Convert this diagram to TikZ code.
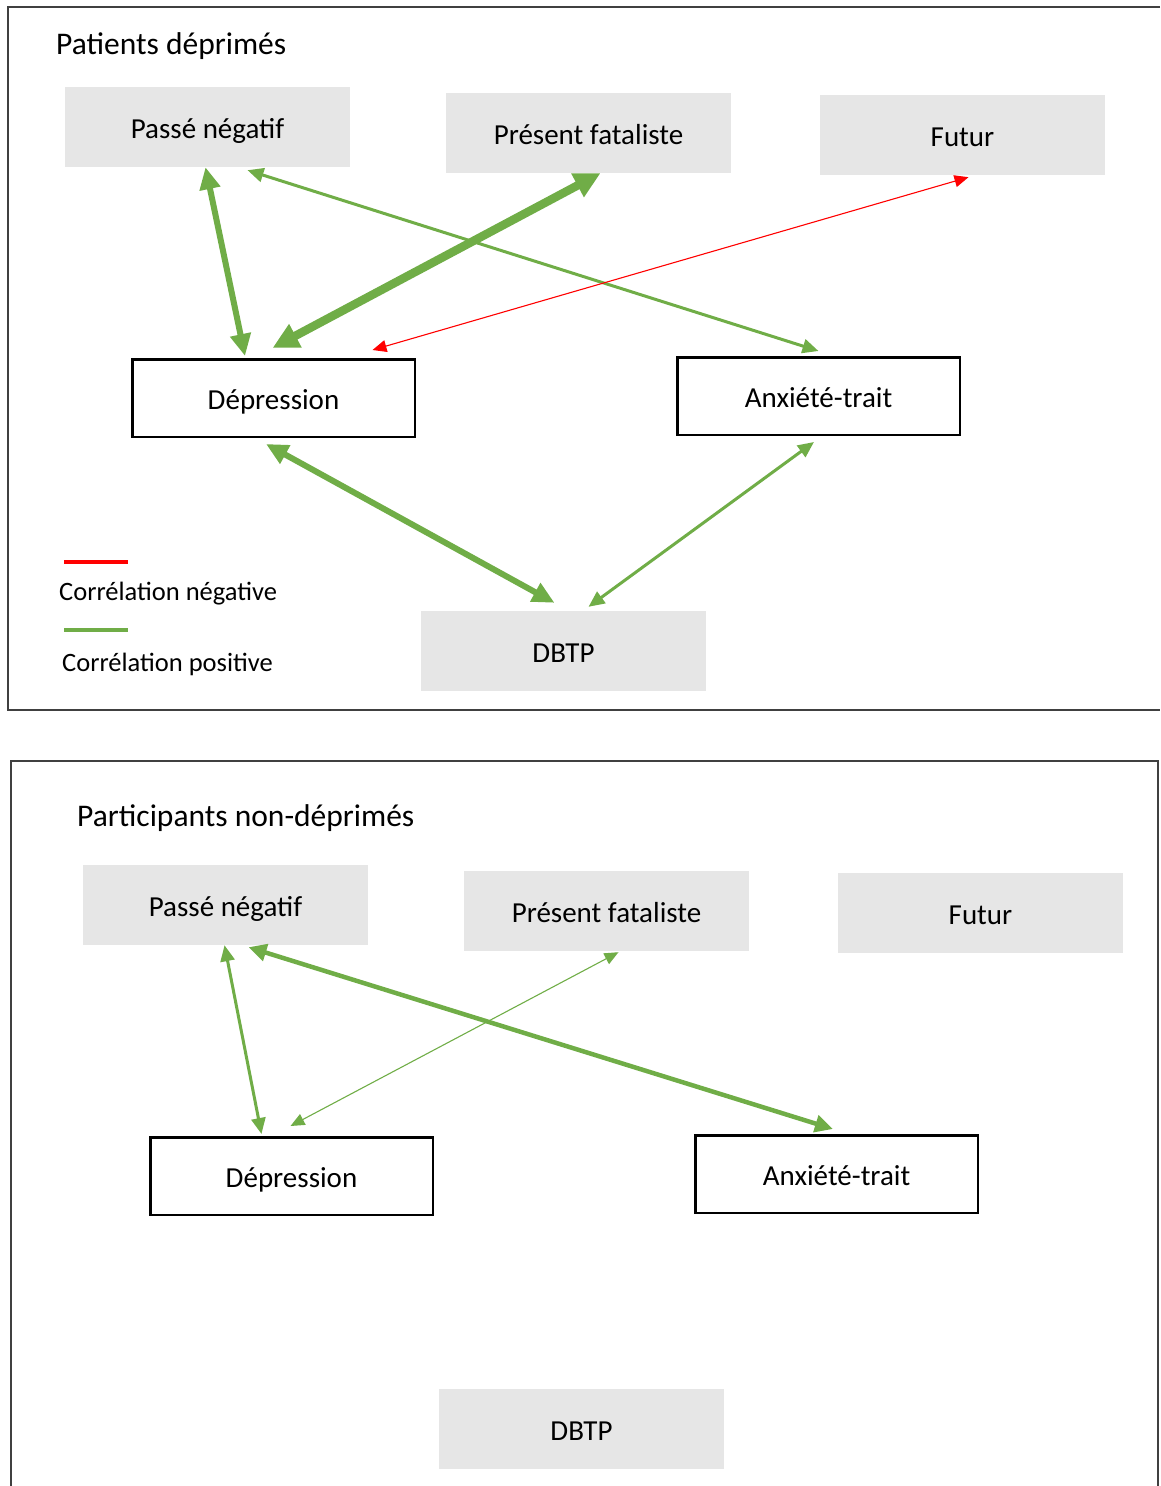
\documentclass[tikz,border=0pt]{standalone}
\usepackage{fontspec}
\setmainfont{Carlito}
\usetikzlibrary{arrows.meta, positioning}

\definecolor{vert}{HTML}{70AD47}
\definecolor{rouge}{HTML}{FF0000}
\definecolor{grisfond}{HTML}{E6E6E6}

\begin{document}
\begin{tikzpicture}[x=1pt, y=-1pt, node distance=0pt,
  titre/.style={anchor=west, inner sep=0pt, font=\fontsize{31.5}{37}\selectfont},
  legende/.style={anchor=west, inner sep=0pt, font=\fontsize{26.5}{31}\selectfont},
  facteur/.style={rectangle, minimum width=285pt, minimum height=80pt, text height=28pt, text depth=6pt, text centered, fill=grisfond, font=\fontsize{29}{35}\selectfont},
  mesure/.style={rectangle, minimum width=282.5pt, minimum height=77.5pt, text height=28pt, text depth=6pt, text centered, draw=black, line width=2.5pt, font=\fontsize{29}{35}\selectfont},
  cadre/.style={draw=black!75, line width=1.3pt},
  fin/.style={vert, line width=1.1pt, {Triangle[length=14pt,width=12pt]}-{Triangle[length=14pt,width=12pt]}},
  moyen/.style={vert, line width=3pt, {Triangle[length=16pt,width=14pt]}-{Triangle[length=16pt,width=14pt]}},
  assez epais/.style={vert, line width=4.5pt, {Triangle[length=18pt,width=17pt]}-{Triangle[length=18pt,width=17pt]}},
  epais/.style={vert, line width=6pt, {Triangle[length=22pt,width=20pt]}-{Triangle[length=22pt,width=20pt]}},
  tres epais/.style={vert, line width=8.5pt, {Triangle[length=26pt,width=25pt]}-{Triangle[length=26pt,width=25pt]}},
  negatif/.style={rouge, line width=1.1pt, {Triangle[length=14pt,width=12pt]}-{Triangle[length=14pt,width=12pt]}}]

  \useasboundingbox (0,0) rectangle (1160,1486);

  % Cadres
  \draw [cadre] (1160,7) -- (8,7) -- (8,710) -- (1160,710);
  \draw [cadre] (11,1486) -- (11,761) -- (1158,761) -- (1158,1486);

  % Nodes - patients deprimes
  \node (titre1) [titre] at (56,46) {Patients déprimés};
  \node (pas1) [facteur] at (207.5,127) {Passé négatif};
  \node (pre1) [facteur, right of=pas1, xshift=381pt, yshift=-6pt] {Présent fataliste};
  \node (fut1) [facteur, right of=pre1, xshift=374pt, yshift=-2pt] {Futur};
  \node (dep1) [mesure, below of=pas1, xshift=66pt, yshift=-271pt] {Dépression};
  \node (anx1) [mesure, right of=dep1, xshift=545pt, yshift=2pt] {Anxiété-trait};
  \node (dbtp1) [facteur, below of=dep1, xshift=290pt, yshift=-253pt] {DBTP};

  % Legende
  \draw [rouge, line width=4pt] (64,562) -- (128,562);
  \node (legneg) [legende] at (59,594) {Corrélation négative};
  \draw [vert, line width=4pt] (64,630) -- (128,630);
  \node (legpos) [legende] at (62,664) {Corrélation positive};

  % Nodes - participants non deprimes
  \node (titre2) [titre] at (77,818) {Participants non-déprimés};
  \node (pas2) [facteur, below of=pas1, xshift=18pt, yshift=-778pt] {Passé négatif};
  \node (pre2) [facteur, right of=pas2, xshift=381pt, yshift=-6pt] {Présent fataliste};
  \node (fut2) [facteur, right of=pre2, xshift=374pt, yshift=-2pt] {Futur};
  \node (dep2) [mesure, below of=pas2, xshift=66pt, yshift=-271pt] {Dépression};
  \node (anx2) [mesure, right of=dep2, xshift=545pt, yshift=2pt] {Anxiété-trait};
  \node (dbtp2) [facteur, below of=dep2, xshift=290pt, yshift=-253pt] {DBTP};

  % Arrows - patients deprimes
  \draw [epais] ([xshift=-2pt]pas1.south) -- ([xshift=-28.5pt,yshift=2pt]dep1.north);
  \draw [tres epais] ([xshift=12pt]pre1.south) -- ([xshift=-1pt,yshift=10pt]dep1.north);
  \draw [moyen] ([xshift=40pt,yshift=-3pt]pas1.south) -- ([yshift=5pt]anx1.north);
  \draw [negatif] ([xshift=6pt,yshift=-2pt]fut1.south) -- ([xshift=99pt,yshift=8pt]dep1.north);
  \draw [epais] ([xshift=-7.5pt,yshift=-6pt]dep1.south) -- ([xshift=-9pt,yshift=8pt]dbtp1.north);
  \draw [moyen] ([xshift=-4.5pt,yshift=-6pt]anx1.south) -- ([xshift=25pt,yshift=4pt]dbtp1.north);

  % Arrows - participants non deprimes
  \draw [moyen] ([xshift=-1pt]pas2.south) -- ([xshift=-30pt,yshift=2pt]dep2.north);
  \draw [assez epais] ([xshift=23pt,yshift=-2pt]pas2.south) -- ([xshift=-3.5pt,yshift=5pt]anx2.north);
  \draw [fin] ([xshift=12pt,yshift=-1pt]pre2.south) -- ([xshift=-1pt,yshift=10pt]dep2.north);

\end{tikzpicture}
\end{document}
